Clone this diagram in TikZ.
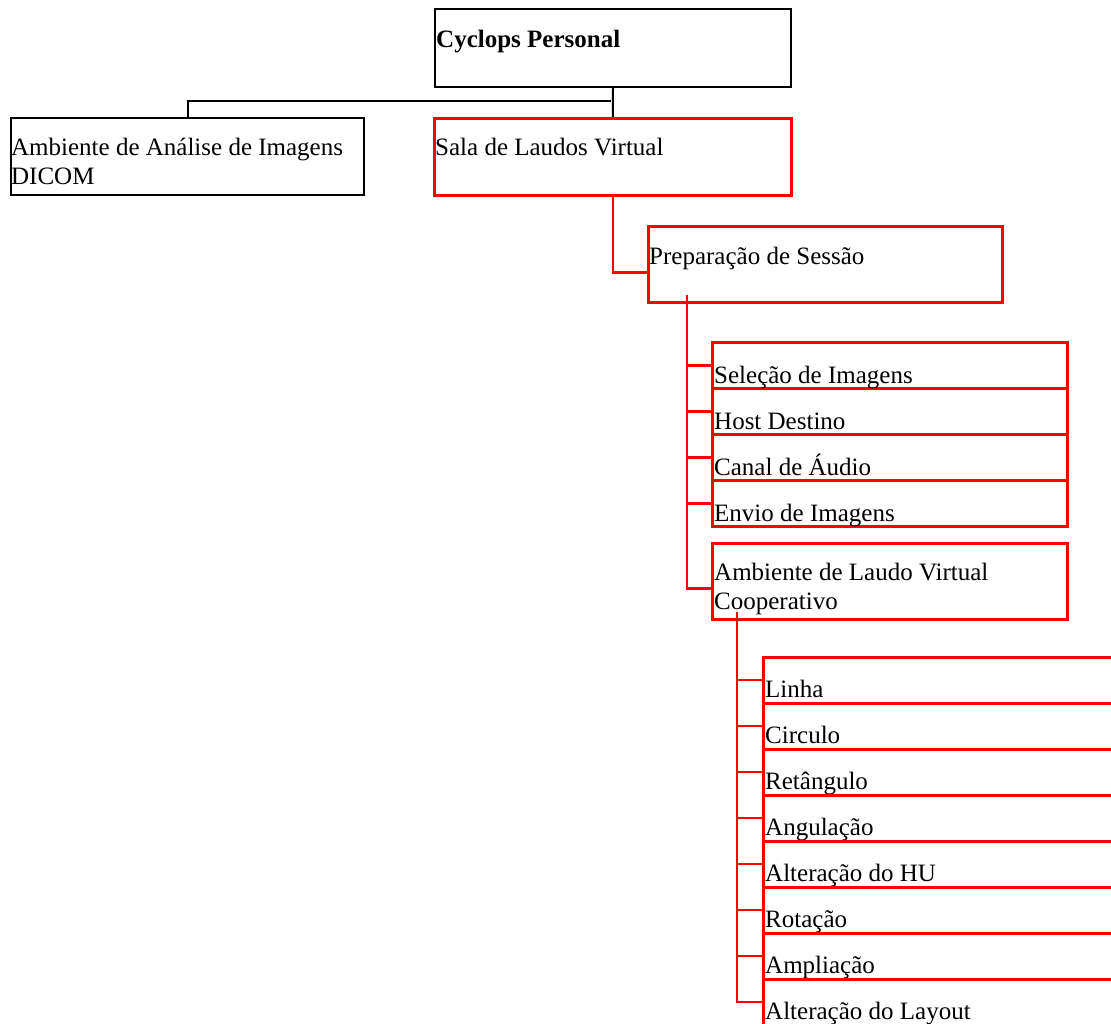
\documentclass[tikz,border=0pt]{standalone}
\usepackage{fontspec}
\setmainfont{Liberation Serif}
\usetikzlibrary{calc}
\begin{document}
\begin{tikzpicture}[x=1pt,y=-1pt,
  bx/.style={draw=black,line width=2pt,rectangle,inner sep=0pt,anchor=north west},
  rbx/.style={draw=red,line width=2.7pt,rectangle,inner sep=0pt,anchor=north west},
  blk/.style={draw=black,line width=2pt},
  red line/.style={draw=red,line width=2.7pt},
  lbl/.style={inner sep=0pt,anchor=base west,font=\fontsize{25}{29}\selectfont},
  mlbl/.style={inner sep=0pt,anchor=base west,text width=345pt,align=flush left,font=\fontsize{25}{29}\selectfont}]
\useasboundingbox (0,0) rectangle (1111,1024);
\clip (0,0) rectangle (1111,1024);
\fill[white] (0,0) rectangle (1111,1024);
% top level
\node[bx,minimum width=356pt,minimum height=78pt] (cyc) at (434,8) {};
\node[bx,minimum width=353pt,minimum height=77pt] (amb) at (10,117) {};
\node[rbx,minimum width=357pt,minimum height=77pt] (sala) at (433,117) {};
\node[rbx,minimum width=354pt,minimum height=76pt] (prep) at (647,225) {};
\node[lbl,font=\fontsize{25}{29}\selectfont\bfseries] (tcyc) at (436,48) {Cyclops Personal};
\node[mlbl] (tamb) at (11,156) {Ambiente de Análise de Imagens\\DICOM};
\node[lbl] (tsala) at (435,156) {Sala de Laudos Virtual};
\node[lbl] (tprep) at (649,265) {Preparação de Sessão};
% children of Preparação
\node[rbx,minimum width=355pt,minimum height=46pt] (sel) at (711,341) {};
\node[rbx,minimum width=355pt,minimum height=46pt] (host) at (711,387) {};
\node[rbx,minimum width=355pt,minimum height=46pt] (canal) at (711,433) {};
\node[rbx,minimum width=355pt,minimum height=46pt] (envio) at (711,479) {};
\node[rbx,minimum width=355pt,minimum height=76pt] (alv) at (711,542) {};
\node[lbl] at ($(sel.south west)+(3,-6.5)$) {Seleção de Imagens};
\node[lbl] at ($(host.south west)+(3,-6.5)$) {Host Destino};
\node[lbl] at ($(canal.south west)+(3,-6.5)$) {Canal de Áudio};
\node[lbl] at ($(envio.south west)+(3,-6.5)$) {Envio de Imagens};
\node[mlbl] (talv) at (714,580) {Ambiente de Laudo Virtual\\Cooperativo};
% grandchildren
\foreach \n/\t [count=\i from 0] in {g1/Linha,g2/Circulo,g3/Retângulo,g4/Angulação,g5/Alteração do HU,g6/Rotação,g7/Ampliação,g8/Alteração do Layout}{
  \node[rbx,minimum width=355pt,minimum height=45.5pt] (\n) at (762,656+46*\i) {};
  \node[lbl] at ($(\n.south west)+(3,-6.5)$) {\t};
}
% connectors
\coordinate (j1) at (611,101);
\draw[blk] (cyc.south) -- (sala.north);
\draw[blk] (amb.north) |- (j1);
\draw[red line] (sala.south) |- ($(prep.west)+(0,8)$);
\coordinate (pt) at (687,295);
\draw[red line] (pt) |- ($(alv.west)+(0,7)$);
\foreach \c in {sel,host,canal,envio}{\draw[red line] (pt |- \c.west) -- (\c.west);}
\coordinate (gt) at (737,612);
\draw[red line] (gt) |- (g8.west);
\foreach \c in {g1,g2,g3,g4,g5,g6,g7}{\draw[red line] (gt |- \c.west) -- (\c.west);}
\end{tikzpicture}
\end{document}
